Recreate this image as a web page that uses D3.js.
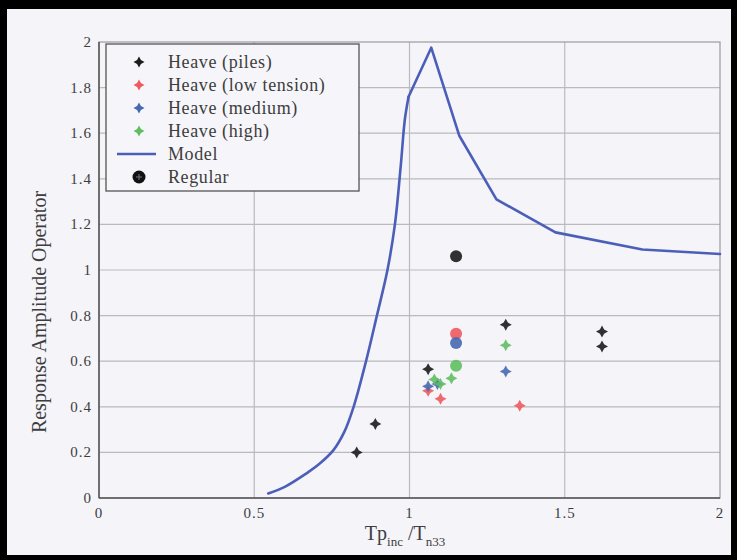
<!DOCTYPE html>
<html>
<head>
<meta charset="utf-8">
<script src="https://cdn.jsdelivr.net/npm/d3@7"></script>
<style>
  html, body { margin: 0; padding: 0; background: #000; }
  svg { display: block; }
  text { font-family: "Liberation Serif", "DejaVu Serif", serif; fill: #3d3d3d; }
</style>
</head>
<body>
<svg id="chart" width="737" height="560"></svg>
<script>
/* ============================================
   RAO chart — heave response vs period ratio
   ============================================ */

// Series
const modelX = [0.545, 0.60, 0.665, 0.71, 0.755, 0.79, 0.82, 0.86, 0.895, 0.929, 0.953, 0.972, 0.985, 0.997, 1.07, 1.16, 1.28, 1.47, 1.75, 2.0];
const modelY = [0.02, 0.05, 0.105, 0.15, 0.21, 0.29, 0.40, 0.60, 0.80, 1.0, 1.2, 1.46, 1.66, 1.76, 1.975, 1.59, 1.31, 1.165, 1.09, 1.07];
const modelKink = 0.997; // smooth below this ratio, straight segments above

const pilesX = [0.83, 0.89, 1.06, 1.31, 1.62, 1.62];
const pilesY = [0.20, 0.325, 0.565, 0.76, 0.73, 0.665];
const lowX = [1.06, 1.10, 1.355];
const lowY = [0.47, 0.435, 0.405];
const mediumX = [1.06, 1.09, 1.31];
const mediumY = [0.49, 0.50, 0.555];
const highX = [1.08, 1.10, 1.135, 1.31];
const highY = [0.52, 0.50, 0.525, 0.67];

const regularX = [1.15, 1.15, 1.15, 1.15];
const regularY = [1.06, 0.72, 0.68, 0.58];
const regularGroup = ["piles", "low", "medium", "high"];

const xTicks = [0, 0.5, 1, 1.5, 2];
const xTickLabels = ["0", "0.5", "1", "1.5", "2"];
const yTicks = [0, 0.2, 0.4, 0.6, 0.8, 1, 1.2, 1.4, 1.6, 1.8, 2];
const yTickLabels = ["0", "0.2", "0.4", "0.6", "0.8", "1", "1.2", "1.4", "1.6", "1.8", "2"];

const legendLabels = ["Heave (piles)", "Heave (low tension)", "Heave (medium)", "Heave (high)", "Model", "Regular"];

const colors = { piles: "#1c1c1c", low: "#ee5a5e", medium: "#4768b3", high: "#5fbf5f", model: "#4c5fb8" };

const W = 737, H = 560;
const margin = { top: 42, right: 17, bottom: 62, left: 99 };
const pw = W - margin.left - margin.right;
const ph = H - margin.top - margin.bottom;

const svg = d3.select("#chart");

// Paper with black frame
svg.append("rect")
  .attr("x", 7).attr("y", 9)
  .attr("width", W - 13).attr("height", H - 14)
  .attr("fill", "#f4f4f9");

const g = svg.append("g")
  .attr("transform", `translate(${margin.left},${margin.top})`);

const x = d3.scaleLinear().domain([0, 2]).range([0, pw]);
const y = d3.scaleLinear().domain([0, 2]).range([ph, 0]);

// Grid
g.selectAll(".vgrid")
  .data(xTicks.slice(1, -1))
  .join("line")
  .attr("x1", d => x(d)).attr("x2", d => x(d))
  .attr("y1", 0).attr("y2", ph)
  .attr("stroke", "#b9b9bf").attr("stroke-width", 1.2);

g.selectAll(".hgrid")
  .data(yTicks.slice(1, -1))
  .join("line")
  .attr("x1", 0).attr("x2", pw)
  .attr("y1", d => y(d)).attr("y2", d => y(d))
  .attr("stroke", "#b9b9bf").attr("stroke-width", 1.2);

// Box
g.append("rect")
  .attr("width", pw).attr("height", ph)
  .attr("fill", "none")
  .attr("stroke", "#9a9aa0").attr("stroke-width", 1.2);

g.append("line")
  .attr("x1", 0).attr("x2", 0).attr("y1", 0).attr("y2", ph)
  .attr("stroke", "#555").attr("stroke-width", 1.5);
g.append("line")
  .attr("x1", 0).attr("x2", pw).attr("y1", ph).attr("y2", ph)
  .attr("stroke", "#555").attr("stroke-width", 1.5);

// Tick labels
g.selectAll(".xtick")
  .data(xTicks)
  .join("text")
  .attr("x", d => x(d))
  .attr("y", ph + 20)
  .attr("text-anchor", "middle")
  .attr("font-size", 15)
  .attr("letter-spacing", 1)
  .text((d, i) => xTickLabels[i]);

g.selectAll(".ytick")
  .data(yTicks)
  .join("text")
  .attr("x", -7)
  .attr("y", d => y(d) + 5)
  .attr("text-anchor", "end")
  .attr("font-size", 15)
  .attr("letter-spacing", 1)
  .text((d, i) => yTickLabels[i]);

// Axis titles
svg.append("text")
  .attr("transform", "translate(46,312) rotate(-90)")
  .attr("text-anchor", "middle")
  .attr("font-size", 20)
  .text("Response Amplitude Operator");

const xt = svg.append("text")
  .attr("x", 405).attr("y", 540)
  .attr("text-anchor", "middle")
  .attr("font-size", 20);
xt.append("tspan").text("Tp");
xt.append("tspan").attr("font-size", 13).attr("dy", 6).text("inc");
xt.append("tspan").attr("dy", -6).text(" /T");
xt.append("tspan").attr("font-size", 13).attr("dy", 6).text("n33");

// Marker shape: four-point star
function star(r) {
  const k = r * 0.35;
  return `M0,${-r}L${k},${-k}L${r},0L${k},${k}L0,${r}L${-k},${k}L${-r},0L${-k},${-k}Z`;
}

// Model curve: smooth rise, straight segments past the kink
const modelPts = modelX.map((v, i) => [v, modelY[i]]);
const rising = modelPts.filter(d => d[0] <= modelKink);
const falling = modelPts.filter(d => d[0] >= modelKink);

const smoothLine = d3.line()
  .x(d => x(d[0]))
  .y(d => y(d[1]))
  .curve(d3.curveCatmullRom.alpha(0.5));
const straightLine = d3.line()
  .x(d => x(d[0]))
  .y(d => y(d[1]));

[[rising, smoothLine], [falling, straightLine]].forEach(([pts, gen]) => {
  g.append("path")
    .datum(pts)
    .attr("d", gen)
    .attr("fill", "none")
    .attr("stroke", colors.model)
    .attr("stroke-width", 2.6)
    .attr("stroke-linejoin", "round")
    .attr("stroke-linecap", "round");
});

// Regular wave circles
g.selectAll(".regular")
  .data(regularX.map((v, i) => ({ x: v, y: regularY[i], c: colors[regularGroup[i]] })))
  .join("circle")
  .attr("cx", d => x(d.x))
  .attr("cy", d => y(d.y))
  .attr("r", 6)
  .attr("fill", d => d.c)
  .attr("opacity", 0.9);

// Heave series
const series = [
  { key: "piles", xs: pilesX, ys: pilesY },
  { key: "low", xs: lowX, ys: lowY },
  { key: "medium", xs: mediumX, ys: mediumY },
  { key: "high", xs: highX, ys: highY }
];

series.forEach(s => {
  g.selectAll(".pt-" + s.key)
    .data(s.xs.map((v, i) => [v, s.ys[i]]))
    .join("path")
    .attr("d", star(6))
    .attr("transform", d => `translate(${x(d[0])},${y(d[1])})`)
    .attr("fill", colors[s.key])
    .attr("opacity", 0.9);
});

// Legend
const lg = svg.append("g").attr("transform", "translate(106,44)");
lg.append("rect")
  .attr("width", 253).attr("height", 147)
  .attr("fill", "#f6f6fa")
  .attr("stroke", "#555").attr("stroke-width", 1.3);

const legendKeys = ["piles", "low", "medium", "high", "model", "regular"];
legendKeys.forEach((k, i) => {
  const ry = 18 + i * 23;
  if (k === "model") {
    lg.append("line")
      .attr("x1", 11).attr("x2", 50).attr("y1", ry).attr("y2", ry)
      .attr("stroke", colors.model).attr("stroke-width", 2.4);
  } else if (k === "regular") {
    lg.append("circle")
      .attr("cx", 33).attr("cy", ry).attr("r", 6.5)
      .attr("fill", "#111");
    lg.append("path")
      .attr("d", "M-3,0H3M0,-3V3")
      .attr("transform", `translate(33,${ry})`)
      .attr("stroke", "#777").attr("stroke-width", 1);
  } else {
    lg.append("path")
      .attr("d", star(5.5))
      .attr("transform", `translate(33,${ry})`)
      .attr("fill", colors[k]);
  }
  lg.append("text")
    .attr("x", 62).attr("y", ry + 6)
    .attr("font-size", 18)
    .attr("letter-spacing", 0.6)
    .text(legendLabels[i]);
});
</script>
</body>
</html>
